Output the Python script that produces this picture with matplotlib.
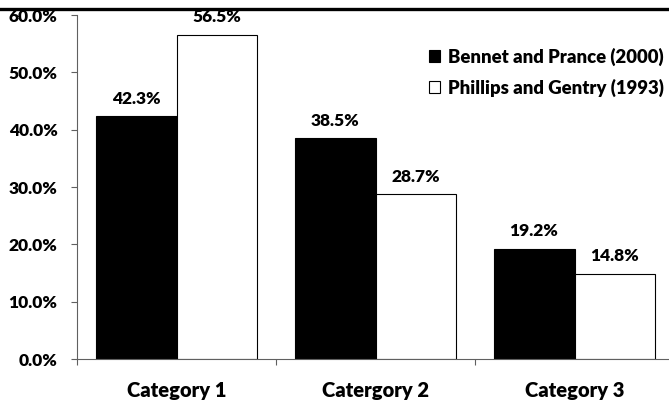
import matplotlib
matplotlib.use("Agg")
import matplotlib.pyplot as plt
from matplotlib.patches import Patch
from matplotlib.lines import Line2D
from matplotlib.ticker import PercentFormatter
import numpy as np

categories = ["Category 1", "Catergory 2", "Category 3"]
bennet = [42.3, 38.5, 19.2]
phillips = [56.5, 28.7, 14.8]
series_names = ["Bennet and Prance (2000)", "Phillips and Gentry (1993)"]
yticks = [0, 10, 20, 30, 40, 50, 60]

plt.rcParams['font.family'] = ['Lato', 'DejaVu Sans']
WEIGHT = 'heavy'

fig = plt.figure(figsize=(6.69, 4.03), dpi=100)
ax = fig.add_axes([77/669, 44/403, 597/669, 344/403])

x = np.arange(len(categories))
w = 0.407
b1 = ax.bar(x - w/2, bennet, w, color='black', edgecolor='black', linewidth=0.8)
b2 = ax.bar(x + w/2, phillips, w, color='white', edgecolor='black', linewidth=0.8)

for bars, vals in ((b1, bennet), (b2, phillips)):
    for r, v in zip(bars, vals):
        ax.annotate(f"{v:.1f}%", (r.get_x() + r.get_width()/2, v),
                    xytext=(0, 7), textcoords='offset points',
                    ha='center', va='bottom', fontsize=12.5, fontweight=WEIGHT)

ax.set_xlim(-0.5, 2.5)
ax.set_ylim(0, 60)
ax.set_yticks(yticks)
ax.yaxis.set_major_formatter(PercentFormatter(decimals=1))
ax.tick_params(axis='y', direction='out', length=4, width=0.8, color='#606060',
               pad=10, labelsize=12.5)
ax.set_xticks(x)
ax.set_xticklabels(categories, fontsize=14.5, fontweight=WEIGHT)
ax.set_xticks([-0.5, 0.5, 1.5], minor=True)
ax.tick_params(axis='x', which='major', length=0, pad=16)
ax.tick_params(axis='x', which='minor', direction='out', length=4, width=0.8, color='#606060')
for lbl in ax.get_yticklabels():
    lbl.set_fontweight(WEIGHT)

for s in ('top', 'right'):
    ax.spines[s].set_visible(False)
for s in ('left', 'bottom'):
    ax.spines[s].set_color('#606060')
    ax.spines[s].set_linewidth(0.8)

handles = [Patch(facecolor='black', edgecolor='black', linewidth=0.8),
           Patch(facecolor='white', edgecolor='black', linewidth=0.8)]
leg = fig.legend(handles, series_names, loc='upper left',
                 bbox_to_anchor=(412/669, 1 - 31/403), frameon=False,
                 handlelength=0.6, handleheight=0.6, handletextpad=0.45,
                 labelspacing=0.7, prop={'size': 13.3, 'weight': WEIGHT})

fig.add_artist(Line2D([0, 1], [1 - 9/403, 1 - 9/403], color='black', linewidth=2.4,
                      transform=fig.transFigure))

fig.savefig("out.png", dpi=100)
